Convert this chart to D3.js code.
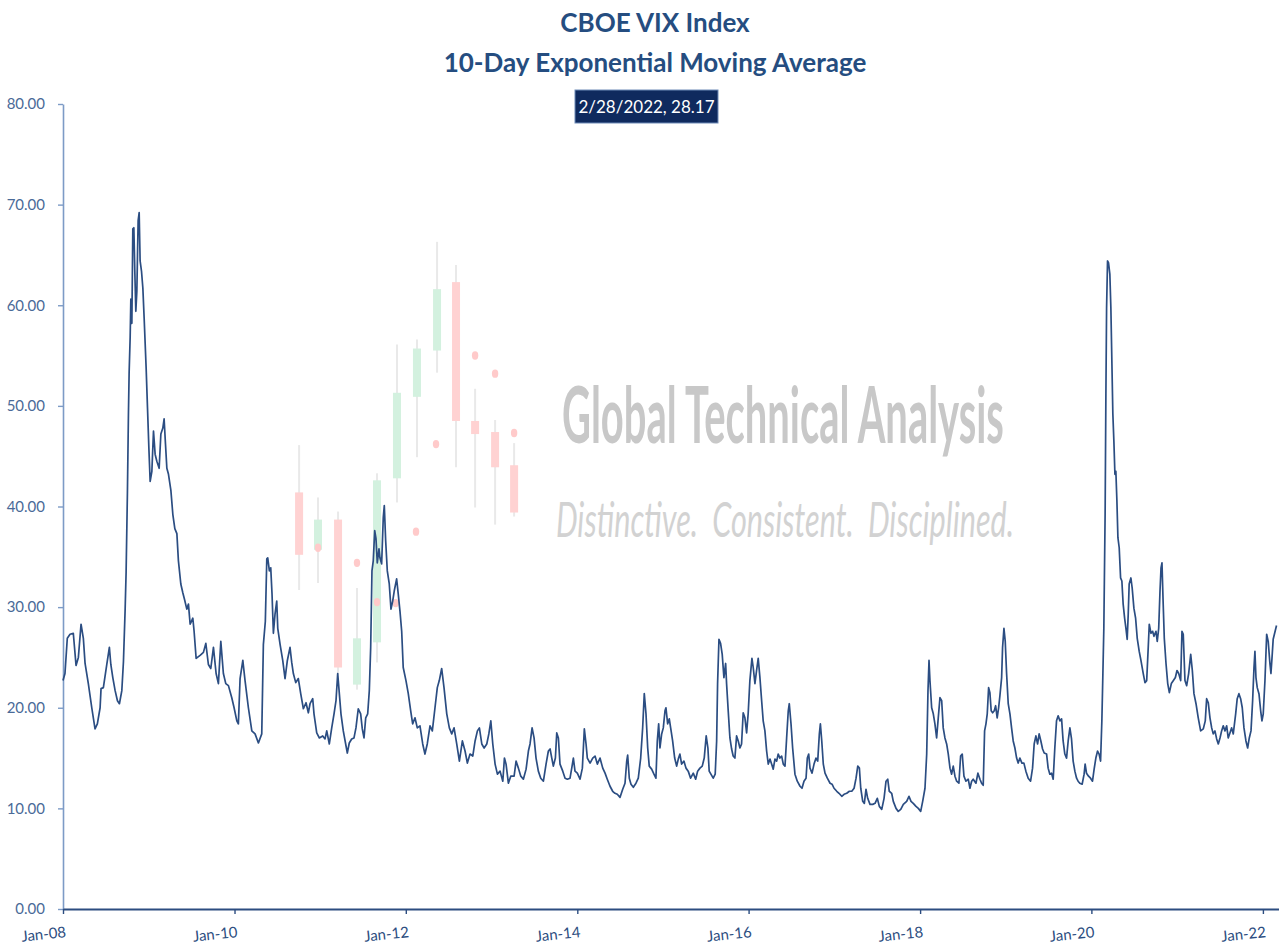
<!DOCTYPE html>
<html><head><meta charset="utf-8">
<script src="https://cdn.jsdelivr.net/npm/d3@7"></script>
<style>html,body{margin:0;padding:0;background:#fff;} svg{display:block;}</style>
</head><body>
<svg id="chart" width="1279" height="951"></svg>
<script>
// ---------- texts ----------
const titleLines = ["CBOE VIX Index", "10-Day Exponential Moving Average"];
const lastLabel = "2/28/2022, 28.17";
const watermarkLines = ["Global Technical Analysis", "Distinctive.  Consistent.  Disciplined."];

// ---------- axes ----------
const yTicks = [0, 10, 20, 30, 40, 50, 60, 70, 80];
const xTickYears = [2008, 2010, 2012, 2014, 2016, 2018, 2020, 2022];
const xTickLabels = ["Jan-08", "Jan-10", "Jan-12", "Jan-14", "Jan-16", "Jan-18", "Jan-20", "Jan-22"];

// ---------- series: 10-day EMA of VIX (dates as decimal years) ----------
const dateYears = [
2008.000,2008.023,2008.050,2008.082,2008.120,2008.152,2008.179,2008.210,2008.237,2008.257,2008.295,2008.335,2008.373,2008.400,2008.432,2008.443,2008.470,2008.510,2008.540,2008.557,2008.580,2008.607,2008.634,2008.657,2008.685,2008.704,2008.723,2008.735,2008.750,2008.762,2008.770,2008.782,2008.790,2008.802,2008.813,2008.825,2008.837,2008.848,2008.860,2008.875,2008.887,2008.898,2008.914,2008.930,2008.945,2008.968,2008.984,
2009.000,2009.015,2009.035,2009.054,2009.073,2009.093,2009.120,2009.140,2009.163,2009.178,2009.194,2009.210,2009.229,2009.257,2009.280,2009.303,2009.327,2009.345,2009.373,2009.397,2009.415,2009.443,2009.462,2009.482,2009.513,2009.528,2009.552,2009.598,2009.637,2009.665,2009.695,2009.723,2009.754,2009.785,2009.812,2009.840,2009.870,2009.898,2009.929,2009.968,2009.995,
2010.027,2010.045,2010.065,2010.097,2010.123,2010.162,2010.202,2010.240,2010.279,2010.318,2010.337,2010.360,2010.377,2010.388,2010.407,2010.423,2010.438,2010.454,2010.473,2010.493,2010.505,2010.532,2010.563,2010.590,2010.617,2010.648,2010.668,2010.687,2010.715,2010.745,2010.773,2010.804,2010.835,2010.862,2010.882,2010.913,2010.928,2010.960,2010.990,
2011.030,2011.057,2011.077,2011.107,2011.135,2011.162,2011.185,2011.205,2011.224,2011.243,2011.270,2011.298,2011.317,2011.340,2011.368,2011.395,2011.418,2011.445,2011.473,2011.492,2011.512,2011.532,2011.555,2011.574,2011.590,2011.605,2011.620,2011.637,2011.652,2011.667,2011.687,2011.698,2011.718,2011.737,2011.749,2011.765,2011.784,2011.807,2011.827,2011.847,2011.865,2011.893,2011.912,2011.932,2011.952,2011.970,
2012.002,2012.029,2012.057,2012.080,2012.107,2012.134,2012.165,2012.197,2012.223,2012.250,2012.282,2012.309,2012.340,2012.367,2012.390,2012.418,2012.445,2012.477,2012.507,2012.535,2012.562,2012.593,2012.624,2012.659,2012.690,2012.717,2012.748,2012.780,2012.807,2012.834,2012.857,2012.885,2012.912,2012.943,2012.967,2012.990,
2013.013,2013.040,2013.067,2013.098,2013.130,2013.149,2013.168,2013.195,2013.223,2013.262,2013.285,2013.312,2013.340,2013.370,2013.402,2013.429,2013.448,2013.472,2013.495,2013.518,2013.545,2013.573,2013.604,2013.635,2013.662,2013.682,2013.702,2013.720,2013.744,2013.760,2013.779,2013.798,2013.830,2013.857,2013.884,2013.915,2013.935,2013.954,2013.973,
2014.000,2014.032,2014.059,2014.082,2014.102,2014.117,2014.149,2014.180,2014.207,2014.234,2014.265,2014.297,2014.324,2014.350,2014.382,2014.413,2014.440,2014.467,2014.499,2014.530,2014.557,2014.577,2014.588,2014.607,2014.627,2014.654,2014.685,2014.712,2014.740,2014.763,2014.782,2014.802,2014.822,2014.840,2014.868,2014.895,2014.918,2014.934,2014.950,2014.965,2014.985,
2015.004,2015.024,2015.035,2015.055,2015.074,2015.090,2015.113,2015.137,2015.160,2015.179,2015.198,2015.218,2015.245,2015.269,2015.295,2015.323,2015.354,2015.382,2015.405,2015.432,2015.459,2015.482,2015.505,2015.525,2015.540,2015.560,2015.587,2015.610,2015.627,2015.638,2015.654,2015.673,2015.692,2015.712,2015.732,2015.743,2015.762,2015.782,2015.802,2015.820,2015.840,2015.860,2015.879,2015.899,2015.918,2015.937,2015.957,2015.977,2015.995,
2016.015,2016.039,2016.054,2016.074,2016.093,2016.112,2016.132,2016.152,2016.170,2016.190,2016.210,2016.229,2016.249,2016.268,2016.287,2016.307,2016.327,2016.345,2016.365,2016.385,2016.404,2016.424,2016.443,2016.462,2016.474,2016.494,2016.513,2016.540,2016.567,2016.599,2016.622,2016.645,2016.669,2016.684,2016.700,2016.715,2016.739,2016.762,2016.785,2016.805,2016.824,2016.836,2016.852,2016.870,2016.890,2016.917,2016.949,2016.972,2016.995,
2017.027,2017.053,2017.085,2017.112,2017.143,2017.174,2017.202,2017.229,2017.252,2017.272,2017.291,2017.307,2017.330,2017.349,2017.368,2017.388,2017.415,2017.447,2017.474,2017.500,2017.524,2017.552,2017.579,2017.602,2017.622,2017.640,2017.668,2017.687,2017.719,2017.745,2017.774,2017.804,2017.843,2017.870,2017.894,2017.920,2017.952,2017.979,
2018.007,2018.030,2018.057,2018.077,2018.092,2018.104,2018.115,2018.135,2018.154,2018.173,2018.193,2018.212,2018.232,2018.252,2018.270,2018.290,2018.310,2018.329,2018.349,2018.368,2018.387,2018.407,2018.427,2018.453,2018.473,2018.492,2018.512,2018.535,2018.562,2018.582,2018.602,2018.620,2018.652,2018.675,2018.699,2018.718,2018.737,2018.753,2018.769,2018.784,2018.800,2018.815,2018.830,2018.847,2018.866,2018.882,2018.900,2018.917,2018.932,2018.952,2018.963,2018.979,2018.994,
2019.010,2019.029,2019.049,2019.068,2019.087,2019.107,2019.127,2019.145,2019.165,2019.189,2019.212,2019.235,2019.262,2019.290,2019.313,2019.332,2019.352,2019.372,2019.390,2019.410,2019.430,2019.449,2019.477,2019.495,2019.515,2019.535,2019.554,2019.573,2019.593,2019.612,2019.632,2019.652,2019.670,2019.690,2019.710,2019.729,2019.749,2019.768,2019.787,2019.807,2019.827,2019.845,2019.865,2019.892,2019.915,2019.927,2019.943,2019.967,2019.990,
2020.013,2020.032,2020.052,2020.072,2020.090,2020.107,2020.122,2020.134,2020.145,2020.160,2020.169,2020.177,2020.188,2020.200,2020.215,2020.227,2020.239,2020.250,2020.262,2020.274,2020.285,2020.297,2020.309,2020.324,2020.340,2020.355,2020.370,2020.387,2020.402,2020.417,2020.429,2020.440,2020.460,2020.475,2020.495,2020.515,2020.534,2020.557,2020.577,2020.604,2020.624,2020.644,2020.662,2020.674,2020.694,2020.713,2020.729,2020.752,2020.767,2020.784,2020.799,2020.811,2020.822,2020.834,2020.849,2020.869,2020.889,2020.908,2020.931,2020.955,2020.978,2020.997,
2021.017,2021.040,2021.055,2021.070,2021.090,2021.110,2021.133,2021.157,2021.176,2021.195,2021.219,2021.245,2021.273,2021.304,2021.327,2021.343,2021.362,2021.382,2021.402,2021.420,2021.440,2021.460,2021.479,2021.499,2021.518,2021.537,2021.557,2021.577,2021.595,2021.615,2021.635,2021.654,2021.682,2021.700,2021.720,2021.740,2021.759,2021.779,2021.802,2021.822,2021.841,2021.861,2021.880,2021.896,2021.907,2021.919,2021.934,2021.954,2021.974,2021.989,
2022.004,2022.024,2022.044,2022.062,2022.082,2022.094,2022.109,2022.120,2022.159
];
const emaValues = [
22.7,23.4,26.9,27.3,27.4,24.2,25.0,28.3,26.9,24.4,22.4,20.0,17.9,18.4,20.0,21.9,22.0,24.3,26.0,24.3,23.0,21.7,20.7,20.4,21.7,24.6,29.6,33.5,41.3,49.2,53.3,56.8,60.6,58.2,67.6,67.7,63.1,59.4,61.4,68.4,69.2,64.4,63.4,61.7,58.7,53.8,49.8,
45.8,42.5,43.5,47.5,45.2,44.5,43.8,47.2,47.8,48.7,46.2,43.8,43.2,41.6,39.2,37.8,37.3,34.6,32.3,31.4,30.8,29.8,30.3,28.3,28.9,27.6,24.9,25.2,25.5,26.4,24.3,23.9,26.0,23.4,22.4,26.6,23.4,22.4,22.2,21.0,20.0,
18.7,18.4,22.9,24.7,22.7,20.0,17.7,17.4,16.5,17.4,26.3,28.6,34.8,34.9,33.6,33.9,31.3,27.4,29.3,30.6,27.9,26.3,24.7,22.9,24.7,26.0,24.5,23.4,22.5,22.9,21.4,19.9,20.5,19.5,20.4,20.9,19.4,17.5,17.0,
17.2,16.9,17.7,16.4,18.0,19.4,20.7,23.4,21.4,19.4,17.7,16.4,15.5,16.5,16.9,17.0,18.0,19.9,19.4,17.9,17.0,19.0,19.4,21.7,26.0,33.6,34.6,37.6,36.8,34.4,35.8,34.9,34.3,38.9,40.1,36.6,33.6,32.3,29.8,30.6,31.6,32.8,31.3,29.6,27.6,24.0,
22.7,21.4,19.7,18.4,19.0,18.0,18.2,16.4,15.4,16.4,18.2,17.7,20.0,22.0,22.7,23.9,22.0,19.4,18.0,17.4,18.0,16.4,14.7,16.7,15.7,14.5,15.4,15.2,16.7,17.7,18.0,16.4,16.0,16.4,17.4,18.7,
16.4,14.4,13.4,13.7,12.7,15.0,14.4,12.5,13.2,13.2,14.7,14.0,13.2,12.9,13.9,15.7,16.4,18.0,17.0,15.0,13.7,13.0,12.7,14.4,15.7,15.9,15.0,14.2,15.0,17.5,17.0,14.4,13.7,13.0,12.9,13.0,14.0,15.0,13.7,
13.5,12.9,14.0,17.9,16.4,15.0,14.5,15.0,15.2,14.4,15.0,14.0,13.5,12.9,12.2,11.7,11.5,11.4,11.1,11.9,12.5,14.7,15.3,13.0,12.4,12.1,12.5,13.0,15.0,18.0,21.4,19.4,16.0,14.2,13.9,13.4,13.0,16.7,18.4,16.0,17.4,
18.0,19.7,20.0,18.4,18.9,18.0,16.7,15.0,14.2,14.9,15.4,14.4,14.7,14.0,13.7,13.0,13.5,12.9,13.7,14.0,14.2,15.0,17.2,16.0,13.7,13.4,13.0,13.4,16.7,22.4,26.8,26.4,25.3,23.0,24.4,22.4,19.7,17.0,15.9,15.2,15.0,17.2,16.7,16.0,16.4,19.5,19.0,17.5,19.4,
22.7,24.9,24.0,22.4,23.7,24.9,23.0,20.7,18.7,17.7,15.7,14.4,14.9,14.4,13.9,14.9,14.7,15.4,15.0,15.2,14.4,14.2,17.0,19.7,20.4,18.4,16.0,13.4,12.7,12.2,12.0,12.7,13.0,15.0,15.4,14.0,13.5,14.4,15.0,14.7,17.4,18.4,16.7,14.4,13.5,13.0,12.5,12.4,12.0,
11.7,11.5,11.2,11.4,11.5,11.7,11.7,12.0,13.0,14.2,14.0,12.0,10.7,10.5,11.9,11.0,10.4,10.4,10.5,11.0,10.2,9.9,11.0,12.7,12.9,11.7,11.5,10.7,10.0,9.7,9.9,10.4,10.7,11.2,10.7,10.5,10.2,10.0,
9.7,10.7,12.0,15.4,21.7,24.7,22.7,20.0,19.4,18.4,17.0,19.0,21.0,20.7,18.0,17.0,16.4,15.4,14.0,13.4,14.2,13.2,12.7,12.5,15.2,15.4,13.2,12.7,12.9,12.0,12.7,12.9,12.5,13.5,12.9,12.5,12.3,17.7,18.4,19.4,22.0,21.5,19.7,19.5,19.7,20.2,19.0,20.0,21.2,23.0,26.0,27.9,26.6,
23.4,20.4,19.4,18.0,16.7,16.0,15.0,14.5,15.0,14.5,14.5,13.7,13.0,12.7,14.0,16.4,17.2,16.4,17.4,16.7,15.9,15.5,15.4,14.0,13.4,13.5,12.9,16.0,18.7,19.2,18.7,18.9,16.7,15.4,15.0,16.7,18.0,16.9,14.7,13.7,13.0,12.7,12.5,12.4,13.4,14.4,13.5,13.2,13.0,
12.7,13.9,15.0,15.7,15.4,14.7,18.7,23.4,27.9,39.3,51.2,59.7,64.4,64.2,63.1,59.7,54.2,49.2,46.5,43.2,43.5,40.6,36.9,35.9,32.9,32.6,30.3,28.9,27.9,26.8,29.3,32.3,32.9,31.9,29.9,28.9,26.9,25.6,24.7,23.4,22.5,22.7,26.0,28.3,27.4,27.6,27.1,27.6,26.6,27.9,31.6,33.9,34.4,30.9,26.9,24.4,22.4,21.5,22.4,22.7,23.0,23.7,
23.4,22.7,27.6,27.3,22.7,22.2,23.4,25.3,23.7,21.4,20.4,19.0,17.7,17.9,18.7,20.9,20.5,19.0,18.0,17.4,17.7,16.9,16.4,17.0,17.7,18.2,17.7,18.2,17.0,17.5,18.0,17.4,19.4,20.9,21.4,20.9,20.0,18.0,16.7,16.0,17.0,17.7,20.7,24.0,25.6,23.0,22.0,21.4,19.7,18.7,
19.4,22.7,27.3,26.6,24.4,23.4,25.3,26.8,28.17
];

// ---------- background logo candles (decimal years, index units) ----------
const candleYears = [2010.754, 2010.975, 2011.209, 2011.430, 2011.664, 2011.897, 2012.130, 2012.364, 2012.585, 2012.807, 2013.040, 2013.262];
const candleOpen  = [41.4, 35.7, 38.7, 22.3, 26.5, 42.8, 50.9, 55.5, 62.3, 48.5, 47.4, 44.1];
const candleClose = [35.2, 38.7, 24.0, 26.9, 42.6, 51.3, 55.7, 61.6, 48.5, 47.2, 43.9, 39.4];
const candleHigh  = [46.1, 40.9, 39.5, 31.9, 43.3, 56.1, 56.6, 66.3, 64.0, 51.7, 48.6, 46.3];
const candleLow   = [31.7, 32.4, 23.3, 21.8, 24.5, 40.4, 44.9, 53.3, 43.9, 39.9, 38.2, 39.0];
const dotYears  = [2010.975, 2011.430, 2011.664, 2011.882, 2012.119, 2012.352, 2012.807, 2013.040, 2013.262];
const dotValues = [35.9, 34.4, 30.5, 30.4, 37.5, 46.2, 55.0, 53.2, 47.3];

// ---------- drawing ----------
const FONT = "Lato, 'Open Sans', 'DejaVu Sans', sans-serif";
const svg = d3.select("#chart");
const W = 1279, H = 951;
const margin = {left: 63, right: 0, top: 104, bottom: 42};

function toDate(y) {
  const yr = Math.floor(y);
  const s = Date.UTC(yr, 0, 1), e = Date.UTC(yr + 1, 0, 1);
  return new Date(s + (y - yr) * (e - s));
}

const x = d3.scaleUtc()
  .domain([toDate(2008), toDate(2022.188)])
  .range([margin.left, W - margin.right]);
const y = d3.scaleLinear()
  .domain([0, 80])
  .range([H - margin.bottom, margin.top]);

// watermark text: fitted to a width, then stretched vertically to a cap height
function fitText(g, str, x0, baseline, width, capH, style) {
  const t = g.append("text").attr("x", 0).attr("y", 0)
    .style("font-family", FONT).style("white-space", "pre")
    .style("font-weight", style.weight).style("font-style", style.italic ? "italic" : "normal")
    .style("fill", style.fill).style("font-size", "40px").text(str);
  const L = t.node().getComputedTextLength();
  const f = 40 * width / L;
  t.style("font-size", f + "px");
  const sy = capH / (0.7165 * f);
  t.attr("transform", `translate(${x0},${baseline}) scale(1,${sy})`);
}
const wm = svg.append("g").attr("class", "watermark");
fitText(wm, watermarkLines[0], 562, 443, 442, 56, {weight: "bold", fill: "#c8c8c8"});
fitText(wm, watermarkLines[1], 556, 537, 458, 35, {weight: "normal", italic: true, fill: "#d2d2d2"});

// candles
const candles = candleYears.map((d, i) => ({t: toDate(d), o: candleOpen[i], c: candleClose[i], h: candleHigh[i], l: candleLow[i]}));
const cg = svg.append("g").attr("class", "candles");
cg.selectAll("line").data(candles).join("line")
  .attr("x1", d => x(d.t)).attr("x2", d => x(d.t))
  .attr("y1", d => y(d.h)).attr("y2", d => y(d.l))
  .attr("stroke", "#e9e9e9").attr("stroke-width", 2);
cg.selectAll("rect").data(candles).join("rect")
  .attr("x", d => x(d.t) - 4).attr("width", 8)
  .attr("y", d => y(Math.max(d.o, d.c)))
  .attr("height", d => Math.abs(y(d.o) - y(d.c)))
  .attr("fill", d => d.c >= d.o ? "#d3f1df" : "#ffd2d2");
cg.selectAll("ellipse").data(dotYears.map((d, i) => ({t: toDate(d), v: dotValues[i]}))).join("ellipse")
  .attr("cx", d => x(d.t)).attr("cy", d => y(d.v))
  .attr("rx", 3.2).attr("ry", 4.2)
  .attr("fill", "#ffcaca");

// axes
const yAxis = svg.append("g")
  .attr("transform", `translate(${margin.left},0)`)
  .call(d3.axisLeft(y).tickValues(yTicks).tickFormat(d3.format(".2f")).tickSize(5).tickSizeOuter(0).tickPadding(13));
yAxis.select(".domain").attr("stroke", "#7d9bc6").attr("stroke-width", 1.6);
yAxis.selectAll(".tick line").attr("stroke", "#7d9bc6").attr("stroke-width", 1.4);
yAxis.selectAll(".tick text")
  .style("font-family", FONT).style("font-size", "15px").style("fill", "#4a6a98");

const xAxis = svg.append("g")
  .attr("transform", `translate(0,${H - margin.bottom})`)
  .call(d3.axisBottom(x).tickValues(xTickYears.map(toDate))
    .tickFormat((d, i) => xTickLabels[i]).tickSize(5).tickSizeOuter(0));
xAxis.select(".domain").attr("stroke", "#2c4d80").attr("stroke-width", 2);
xAxis.selectAll(".tick line").attr("stroke", "#2c4d80").attr("stroke-width", 1.4);
xAxis.selectAll(".tick text")
  .attr("x", 0).attr("y", 0).attr("dy", null)
  .attr("text-anchor", "end")
  .attr("transform", "translate(3,28) rotate(-6)")
  .style("font-family", FONT).style("font-size", "15px").style("fill", "#2c4d80");

// line
const series = dateYears.map((d, i) => ({t: toDate(d), v: emaValues[i]}));
svg.append("path")
  .datum(series)
  .attr("fill", "none")
  .attr("stroke", "#2b4d82")
  .attr("stroke-width", 1.7)
  .attr("stroke-linejoin", "round")
  .attr("d", d3.line().x(d => x(d.t)).y(d => y(d.v)));

// title
svg.append("g").selectAll("text").data(titleLines).join("text")
  .attr("x", 655).attr("y", (d, i) => 32 + i * 40)
  .attr("text-anchor", "middle")
  .style("font-family", FONT).style("font-size", "26px").style("font-weight", "bold")
  .style("fill", "#254d80")
  .text(d => d);

// last-value label
const lbl = svg.append("g");
lbl.append("rect")
  .attr("x", 575).attr("y", 90).attr("width", 143).attr("height", 33)
  .attr("fill", "#0f2a5e").attr("stroke", "#6f8bb8").attr("stroke-width", 1);
lbl.append("text")
  .attr("x", 646.5).attr("y", 113)
  .attr("text-anchor", "middle")
  .style("font-family", FONT).style("font-size", "17px").style("fill", "#ffffff")
  .text(lastLabel);
</script>
</body></html>
